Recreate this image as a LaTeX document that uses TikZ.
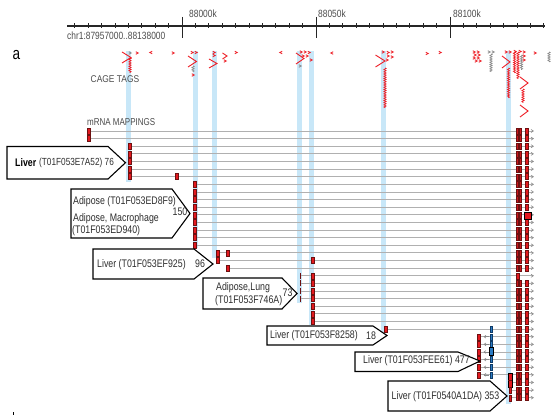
\documentclass[tikz,border=0pt]{standalone}
\usepackage{fontspec}
\setmainfont{Liberation Sans}
\newfontfamily\nf{Liberation Sans}[FakeStretch=0.86]
\newfontfamily\nfc{Liberation Sans}[FakeStretch=0.8]
\usetikzlibrary{decorations.pathmorphing}
\definecolor{hl}{HTML}{C8E7F8}
\definecolor{mred}{HTML}{E3191F}
\definecolor{cred}{HTML}{EE1C24}
\definecolor{dred}{HTML}{6E1010}
\definecolor{lgray}{HTML}{B0B0B0}
\definecolor{mgray}{HTML}{8A8A8A}
\definecolor{mblue}{HTML}{2A7BC4}
\definecolor{dblue}{HTML}{0E3A66}
\definecolor{txt}{HTML}{2E2E2E}
\newcommand\myMk[2]{\filldraw[mk] ({#1-1.3},{#2-3}) rectangle ({#1+1.3},{#2+3});}
\newcommand\smk[2]{\draw[cg,line width=0.8pt] ({#1-1.2},{#2-1.3}) -- ({#1+1.2},{#2}) -- ({#1-1.2},{#2+1.3});}
\newcommand\smkl[2]{\draw[cg,line width=0.8pt] ({#1+1.2},{#2-1.3}) -- ({#1-1.2},{#2}) -- ({#1+1.2},{#2+1.3});}
\newcommand\smkg[2]{\draw[cgg,line width=0.8pt] ({#1-1.2},{#2-1.3}) -- ({#1+1.2},{#2}) -- ({#1-1.2},{#2+1.3});}
\begin{document}
\begin{tikzpicture}[x=1pt,y=-1pt,
  mk/.style={fill=mred,draw=dred,line width=0.45pt},
  cg/.style={draw=cred,line width=0.9pt},
  cgg/.style={draw=mgray,line width=0.8pt},
  zz/.style={draw=cred,line width=0.7pt,decorate,decoration={zigzag,amplitude=1.1pt,segment length=2.2pt}},
  zzg/.style={draw=mgray,line width=0.7pt,decorate,decoration={zigzag,amplitude=1.1pt,segment length=2.2pt}},
  hlbar/.style={fill=hl,draw=none},
  mline/.style={draw=lgray,line width=0.9pt},
  lbox/.style={draw=black,fill=white,line width=1.1pt,line join=miter},
  lab/.style={inner sep=0pt,text=txt,font=\nfc\fontsize{11}{12}\selectfont},
  sc/.style={inner sep=0pt,text=black!70,font=\nfc\fontsize{10.5}{11}\selectfont},
  axis/.style={draw=black!85,line width=1.2pt}]
\useasboundingbox (0,0) rectangle (558,417);
\fill[white] (0,0) rectangle (558,417);

% ---------- scale ----------
\draw[axis] (67,26) -- (545,26);
\foreach \i in {-8,...,27} {\draw[black!85,line width=0.9pt] ({182+13.4*\i},23.5) -- ({182+13.4*\i},28.5);}
\foreach \i in {0,10,20} {\draw[black!85,line width=1pt] ({182+13.4*\i},17) -- ({182+13.4*\i},38);}
\node[sc,anchor=west] (k1) at (189,13.5) {88000k};
\node[sc,anchor=west] (k2) at (318,13.5) {88050k};
\node[sc,anchor=west] (k3) at (453,13.5) {88100k};
\node[sc,anchor=west] (chr) at (67,35.5) {chr1:87957000..88138000};
\node[inner sep=0pt,anchor=west,font=\nfc\fontsize{17}{17}\selectfont] (pa) at (12.5,55.5) {a};
\fill[black] (12.5,412) rectangle (13.8,415);

% ---------- highlight bars ----------
\fill[hlbar] (125.5,51) rectangle (130.5,182);
\fill[hlbar] (192.5,51) rectangle (197.5,248);
\fill[hlbar] (212,51) rectangle (217,258);
\fill[hlbar] (296.5,51) rectangle (301.5,303);
\fill[hlbar] (308.5,51) rectangle (313.5,325);
\fill[hlbar] (381,51) rectangle (386,332);
\fill[hlbar] (505.5,51) rectangle (510.5,404);

\node[sc,anchor=west,font=\nf\fontsize{9.8}{10}\selectfont] (cage) at (90.5,79.5) {CAGE TAGS};
\node[sc,anchor=west,font=\nfc\fontsize{10}{10}\selectfont] (mrna) at (87,122) {mRNA MAPPINGS};

% ---------- CAGE tags ----------
\draw[cg] (122,52) -- (131,57.5) -- (122,63);
\draw[zz] (130,58) -- (130,73);
\smkg{130}{53}
\smk{137}{53} \smkl{151}{52.5} \smk{173}{53}
\draw[cg] (188,56) -- (196.5,61.5) -- (188,67);
\smk{192}{52.5} \smk{196}{52.5}
\draw[zzg] (193,66) -- (193,72);
\smk{193}{75}
\draw[cg] (209,59) -- (217,63.5) -- (209,68);
\smk{214}{52.5} \smk{214}{55.5}
\draw[cg] (222.5,53) -- (227,56) -- (222.5,59);
\smk{225}{61}
\smk{236}{52.5}
\smkl{281}{52.5}
\draw[cg] (296,53) -- (304,58.5) -- (296,64);
\smk{301}{52} \smk{305}{52} \smk{309}{52.5} \smk{307}{56} \smk{311}{60} \smk{303}{56}
\smkg{300}{66}
\smkl{332}{53}
\draw[cg] (375.5,55) -- (385,61) -- (375.5,67);
\smk{383}{52} \smk{388}{52.5} \smk{392}{52} \smk{388}{56} \smk{392}{57} \smk{387}{60}
\draw[zz] (385,68) -- (385,108);
\smk{427}{53.5} \smk{440}{52.5}
\smk{474}{52} \smk{478}{52} \smk{475}{55} \smk{479}{55} \smk{474}{58} \smk{478}{58} \smk{476}{61} \smk{480}{61}
\draw[zzg] (491,54) -- (491,72);
\smkg{489}{52} \smkg{493}{52}
\draw[cg] (502,56) -- (510,62) -- (502,68);
\draw[zz] (508.5,68) -- (508.5,98);
\smk{506}{52} \smk{510}{52}
\draw[zz] (514.5,52) -- (514.5,73);
\draw[zz] (518,52) -- (518,79);
\draw[zzg] (521.5,55) -- (521.5,70);
\smk{515}{51.5} \smk{520}{51.5} \smk{524}{52} \smk{524}{56} \smk{524}{60}
\draw[cg] (520,77) -- (528,83) -- (520,89);
\draw[zz] (523,89) -- (523,103);
\draw[cg] (520,105) -- (528,111) -- (520,117);
\smk{535}{53}
\draw[zzg] (549,52) -- (549,62);

% ---------- mRNA lines ----------
\foreach \k/\s in {0/88,1/88,2/129,3/129,4/129,5/129,6/129,7/195,8/195,9/195,10/195,11/195,12/195,13/195,14/195,15/195,16/217,17/217,18/228,19/300,20/300,21/300,22/300,23/312,24/312,25/312,26/385,27/478,28/478,29/478,30/478,31/478,32/478,33/510,34/510,35/510}{
  \pgfmathsetmacro\yy{131+7.62*\k}
  \draw[mline] (\s,\yy) -- (533,\yy);
  \draw[mgray,line width=0.6pt] (531,{\yy-1.5}) -- (533.4,\yy) -- (531,{\yy+1.5});
}
% right columns
\foreach \k in {0,...,35}{
  \pgfmathsetmacro\yy{131+7.62*\k}
  \ifnum\k=19
    \filldraw[mk] (516.5,{\yy-3}) rectangle (519,{\yy+3});
  \else
    \filldraw[fill=mred!90!black,draw=dred,line width=0.4pt] (516.5,{\yy-3}) rectangle (517.9,{\yy+3});
    \filldraw[fill=mred!90!black,draw=dred,line width=0.4pt] (519.5,{\yy-3}) rectangle (520.9,{\yy+3});
    \myMk{527}{\yy}
  \fi
}
\filldraw[fill=mred,draw=black,line width=0.9pt] (524.6,212.3) rectangle (531.2,219.3);

% left markers
\foreach \k in {0,1}{\pgfmathsetmacro\yy{131+7.62*\k}\myMk{88.5}{\yy}}
\foreach \k in {2,...,6}{\pgfmathsetmacro\yy{131+7.62*\k}\myMk{129.5}{\yy}}
\myMk{177}{176.7}
\foreach \k in {7,...,15}{\pgfmathsetmacro\yy{131+7.62*\k}\myMk{195}{\yy}}
\myMk{217.5}{253.2} \myMk{217.5}{260.6} \myMk{228}{253.2} \myMk{228}{268.2}
\myMk{313}{260.6}
\foreach \k in {19,...,22}{\pgfmathsetmacro\yy{131+7.62*\k}\draw[dred,line width=1pt] (300.5,{\yy-3}) -- (300.5,{\yy+3});}
\foreach \k in {19,...,25}{\pgfmathsetmacro\yy{131+7.62*\k}\myMk{312.5}{\yy}}
\myMk{385.5}{329.1}
\foreach \k in {27,...,32}{\pgfmathsetmacro\yy{131+7.62*\k}
  \myMk{478.5}{\yy}
  \draw[mgray,line width=0.6pt] (488.5,\yy) -- (484,\yy);
  \draw[mgray,line width=0.6pt] (486,{\yy-1.4}) -- (484,\yy) -- (486,{\yy+1.4});}
\foreach \k in {26,...,32}{\pgfmathsetmacro\yy{131+7.62*\k}
  \filldraw[fill=mblue,draw=dblue,line width=0.45pt] (490.2,{\yy-3}) rectangle (492.4,{\yy+3});}
\filldraw[fill=mblue,draw=black,line width=0.8pt] (489.4,347.8) rectangle (493.2,355);
\filldraw[fill=mred,draw=black,line width=0.9pt] (508.2,373) rectangle (512.4,387);
\draw[dred,line width=0.8pt] (508.2,380) -- (512.4,380);
\myMk{510.3}{390.3} \myMk{510.3}{397.9}

% ---------- label boxes ----------
\draw[lbox] (7,146.5) -- (108,146.5) -- (125.5,162.7) -- (108,179) -- (7,179) -- cycle;
\node[lab,anchor=west,text=black] (l1a) at (15,163) {\textbf{Liver}};
\node[lab,anchor=west,font=\nfc\fontsize{10.3}{12}\selectfont] (l1b) at (39,163) {(T01F053E7A52) 76};

\draw[lbox] (71,189) -- (172,189) -- (190,213.5) -- (172,238) -- (71,238) -- cycle;
\node[lab,anchor=west] (l2a) at (73,201.5) {Adipose (T01F053ED8F9)};
\node[lab,anchor=west] (l2b) at (73,218.5) {Adipose, Macrophage};
\node[lab,anchor=west] (l2c) at (72,230.5) {(T01F053ED940)};
\node[lab,anchor=west] (l2d) at (172.5,212) {150};

\draw[lbox] (93,249) -- (194,249) -- (213,264) -- (194,279) -- (93,279) -- cycle;
\node[lab,anchor=west] (l3a) at (97,265) {Liver (T01F053EF925)};
\node[lab,anchor=west] (l3b) at (195,263.5) {96};

\draw[lbox] (203,278) -- (282,278) -- (297,293.5) -- (282,309) -- (203,309) -- cycle;
\node[lab,anchor=west] (l4a) at (216,288) {Adipose,Lung};
\node[lab,anchor=west] (l4b) at (215,300.7) {(T01F053F746A)};
\node[lab,anchor=west] (l4c) at (282.5,293) {73};

\draw[lbox] (267,326) -- (373,326) -- (387,335.5) -- (373,345) -- (267,345) -- cycle;
\node[lab,anchor=west] (l5a) at (270,335.5) {Liver (T01F053F8258)};
\node[lab,anchor=west] (l5b) at (366,335.5) {18};

\draw[lbox] (355,352) -- (458,352) -- (480,361) -- (458,371.5) -- (355,371.5) -- cycle;
\node[lab,anchor=east] (l6a) at (470,361) {Liver (T01F053FEE61) 477};

\draw[lbox] (388,381) -- (490,381) -- (507,396) -- (490,411) -- (388,411) -- cycle;
\node[lab,anchor=east] (l7a) at (499.5,396.5) {Liver (T01F0540A1DA) 353};
\end{tikzpicture}
\end{document}
